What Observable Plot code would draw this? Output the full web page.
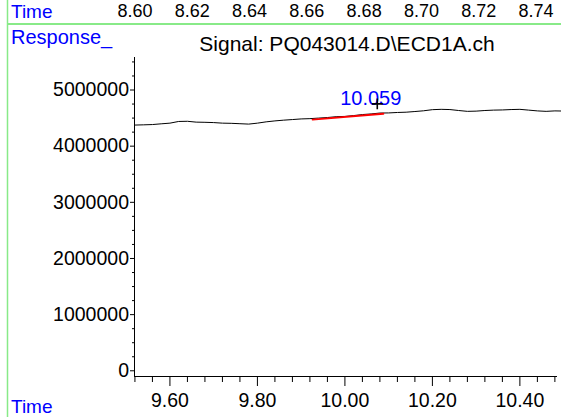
<!DOCTYPE html>
<html>
<head>
<meta charset="utf-8">
<script src="https://cdn.jsdelivr.net/npm/d3@7"></script>
<script src="https://cdn.jsdelivr.net/npm/@observablehq/plot@0.6"></script>
<style>
html, body { margin: 0; padding: 0; background: #fff; }
#chart { width: 561px; height: 417px; overflow: hidden; }
</style>
</head>
<body>
<div id="chart"></div>
<script>
// ---- data ----
const times = [9.52, 9.54, 9.56, 9.58, 9.60, 9.62, 9.64, 9.66, 9.68, 9.70,
  9.72, 9.74, 9.76, 9.78, 9.80, 9.82, 9.84, 9.86, 9.88, 9.90,
  9.92, 9.94, 9.96, 9.98, 10.00, 10.02, 10.04, 10.06, 10.08, 10.10,
  10.12, 10.14, 10.16, 10.18, 10.20, 10.22, 10.24, 10.26, 10.28, 10.30,
  10.32, 10.34, 10.36, 10.38, 10.40, 10.42, 10.44, 10.46, 10.48, 10.495];
const responses = [4376000, 4380000, 4385000, 4398000, 4410000, 4440000, 4443000, 4428000, 4425000, 4420000,
  4410000, 4407000, 4400000, 4393000, 4410000, 4433000, 4450000, 4463000, 4474000, 4485000,
  4490000, 4500000, 4510000, 4525000, 4530000, 4545000, 4563000, 4574000, 4590000, 4592000,
  4600000, 4605000, 4617000, 4630000, 4650000, 4656000, 4652000, 4635000, 4620000, 4624000,
  4635000, 4642000, 4645000, 4652000, 4656000, 4642000, 4628000, 4620000, 4628000, 4626000];
const baselineTimes = [9.926, 10.088];
const baselineResponses = [4474000, 4577000];
const peakLabel = "10.059";
const peakLabelTime = 10.059;
const markerTime = 10.074;
const markerResponse = 4754000;

const xTicks = [9.6, 9.8, 10.0, 10.2, 10.4];
const xTickLabels = ["9.60", "9.80", "10.00", "10.20", "10.40"];
const xMinorTicks = [9.52, 9.56, 9.64, 9.68, 9.72, 9.76, 9.84, 9.88, 9.92, 9.96,
  10.04, 10.08, 10.12, 10.16, 10.24, 10.28, 10.32, 10.36, 10.44, 10.48];
const yTicks = [0, 1000000, 2000000, 3000000, 4000000, 5000000];
const yTickLabels = ["0", "1000000", "2000000", "3000000", "4000000", "5000000"];
const yMinorTicks = [250000, 500000, 750000, 1250000, 1500000, 1750000, 2250000, 2500000, 2750000,
  3250000, 3500000, 3750000, 4250000, 4500000, 4750000, 5250000, 5500000];
const topTicks = [8.60, 8.62, 8.64, 8.66, 8.68, 8.70, 8.72, 8.74];
const topTickLabels = ["8.60", "8.62", "8.64", "8.66", "8.68", "8.70", "8.72", "8.74"];
const title = "Signal: PQ043014.D\\ECD1A.ch";
const yHeader = "Response_";
const xHeader = "Time";

const xDomain = [9.519, 10.486];
const yDomain = [-101600, 5579000];

const font = "Arial, 'Liberation Sans', sans-serif";
const blue = "#0000ff";
const green = "#88ea88";

const series = times.map((t, i) => ({t, r: responses[i]}));
const baseline = baselineTimes.map((t, i) => ({t, r: baselineResponses[i]}));

const svg = Plot.plot({
  width: 561,
  height: 417,
  marginLeft: 134,
  marginRight: 4,
  marginTop: 57,
  marginBottom: 41,
  x: {domain: xDomain},
  y: {domain: yDomain},
  style: {fontFamily: font, fontSize: "19.5px", color: "black", background: "white", overflow: "visible"},
  marks: [
    Plot.axisX({ticks: xMinorTicks, tickSize: 6, tickFormat: () => "", label: null, stroke: "black"}),
    Plot.axisX({ticks: xTicks, tickSize: 10, tickPadding: 7, tickFormat: d => xTickLabels[xTicks.indexOf(d)], label: null, stroke: "black", fill: "black"}),
    Plot.axisY({ticks: yMinorTicks, tickSize: 2, tickFormat: () => "", label: null, stroke: "black"}),
    Plot.axisY({ticks: yTicks, tickSize: 4, tickPadding: 1.5, tickFormat: d => yTickLabels[yTicks.indexOf(d)], label: null, stroke: "black", fill: "black"}),
    Plot.ruleX([xDomain[0]], {stroke: "black", strokeWidth: 1}),
    Plot.ruleY([yDomain[0]], {stroke: "black", strokeWidth: 1}),
    Plot.line(series, {x: "t", y: "r", stroke: "black", strokeWidth: 1}),
    Plot.line(baseline, {x: "t", y: "r", stroke: "red", strokeWidth: 1.8}),
    Plot.text([{t: peakLabelTime, r: markerResponse}], {x: "t", y: "r", text: () => peakLabel, dy: -5, fill: blue, fontSize: 20, textAnchor: "middle"}),
    Plot.dot([{t: markerTime, r: markerResponse}], {x: "t", y: "r", symbol: "plus", r: 3.6, stroke: "black", strokeWidth: 1.6})
  ]
});

const s = d3.select(svg);
// frame decoration: green lines
s.append("line").attr("x1", 7.5).attr("x2", 7.5).attr("y1", 0).attr("y2", 417)
  .attr("stroke", green).attr("stroke-width", 1.5);
s.append("line").attr("x1", 7).attr("x2", 561).attr("y1", 24).attr("y2", 24)
  .attr("stroke", green).attr("stroke-width", 2);

// top (cropped) time axis labels
const topX = d3.scaleLinear().domain([topTicks[0], topTicks[topTicks.length - 1]]).range([135, 536]);
s.append("g").attr("font-family", font).attr("font-size", 18).attr("fill", "black")
  .attr("text-anchor", "middle")
  .selectAll("text").data(topTicks).join("text")
  .attr("x", d => topX(d)).attr("y", 17)
  .text((d, i) => topTickLabels[i]);

s.append("text").attr("x", 11).attr("y", 18).attr("font-family", font).attr("font-size", 19)
  .attr("text-anchor", "start").attr("fill", blue).text(xHeader);
s.append("text").attr("x", 11).attr("y", 43.5).attr("font-family", font).attr("font-size", 20)
  .attr("text-anchor", "start").attr("fill", blue).text(yHeader);
s.append("text").attr("x", 347).attr("y", 51).attr("font-family", font).attr("font-size", 21)
  .attr("fill", "black").attr("text-anchor", "middle").text(title);
s.append("text").attr("x", 11).attr("y", 413).attr("font-family", font).attr("font-size", 19)
  .attr("text-anchor", "start").attr("fill", blue).text(xHeader);

document.getElementById("chart").appendChild(svg);
</script>
</body>
</html>
